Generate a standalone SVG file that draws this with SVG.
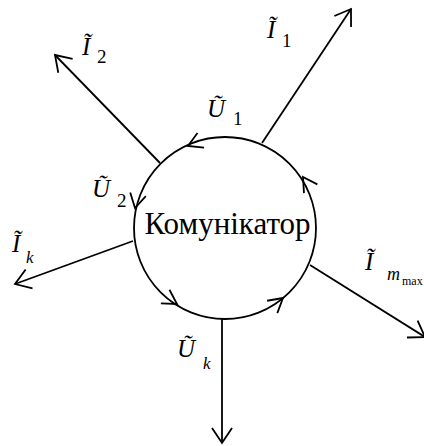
<svg xmlns="http://www.w3.org/2000/svg" width="424" height="446" viewBox="0 0 424 446" font-family="Liberation Serif, Times New Roman, serif">
<style>
.ln{stroke:#000;stroke-width:1.8;fill:none}
</style>
<defs>
<marker id="arr" markerUnits="userSpaceOnUse" markerWidth="30" markerHeight="30" viewBox="-20 -15 30 30" refX="0" refY="0" orient="auto">
<path d="M-15,-10 L0,0 L-15,10" class="ln"/>
</marker>
<path id="cah" d="M-14,-8 L0,0 L-14,8" class="ln"/>
</defs>
<rect width="424" height="446" fill="#fff"/>
<g id="connectors">
<line class="ln" x1="262" y1="143" x2="351" y2="9" marker-end="url(#arr)"/>
<line class="ln" x1="160" y1="163" x2="55" y2="55" marker-end="url(#arr)"/>
<line class="ln" x1="133" y1="241" x2="15" y2="284" marker-end="url(#arr)"/>
<line class="ln" x1="310" y1="265" x2="425" y2="337" marker-end="url(#arr)"/>
<line class="ln" x1="222" y1="318" x2="222" y2="443" marker-end="url(#arr)"/>
</g>
<g id="communicator">
<circle class="ln" cx="225" cy="228" r="91"/>
<use href="#cah" transform="translate(188,146) rotate(155.7)"/>
<use href="#cah" transform="translate(135,208) rotate(102.5)"/>
<use href="#cah" transform="translate(177,304) rotate(32.3)"/>
<use href="#cah" transform="translate(283,298) rotate(-39.6)"/>
<use href="#cah" transform="translate(303,177) rotate(-123.2)"/>
<text x="227.5" y="234" font-size="31" text-anchor="middle" font-family="Liberation Serif" fill="#000">Комунікатор</text>
</g>
<g id="label-I1"><text x="267" y="38" font-size="25" font-family="Liberation Serif" font-style="italic">Ĩ</text><text x="282" y="47" font-size="19" font-family="Liberation Serif">1</text></g>
<g id="label-I2"><text x="82" y="55" font-size="25" font-family="Liberation Serif" font-style="italic">Ĩ</text><text x="97" y="63" font-size="19" font-family="Liberation Serif">2</text></g>
<g id="label-U1"><text x="207" y="117" font-size="25" font-family="Liberation Serif" font-style="italic">Ũ</text><text x="233" y="125" font-size="19" font-family="Liberation Serif">1</text></g>
<g id="label-U2"><text x="92" y="197" font-size="25" font-family="Liberation Serif" font-style="italic">Ũ</text><text x="117" y="207" font-size="19" font-family="Liberation Serif">2</text></g>
<g id="label-Ik"><text x="12" y="252" font-size="25" font-family="Liberation Serif" font-style="italic">Ĩ</text><text x="26" y="263" font-size="17" font-family="Liberation Serif" font-style="italic">k</text></g>
<g id="label-Imax"><text x="365" y="270" font-size="25" font-family="Liberation Serif" font-style="italic">Ĩ</text><text x="387" y="280" font-size="18" font-family="Liberation Serif" font-style="italic">m</text><text x="402" y="285" font-size="12" font-family="Liberation Serif">max</text></g>
<g id="label-Uk"><text x="177" y="357" font-size="25" font-family="Liberation Serif" font-style="italic">Ũ</text><text x="203" y="369" font-size="17" font-family="Liberation Serif" font-style="italic">k</text></g>
</svg>
